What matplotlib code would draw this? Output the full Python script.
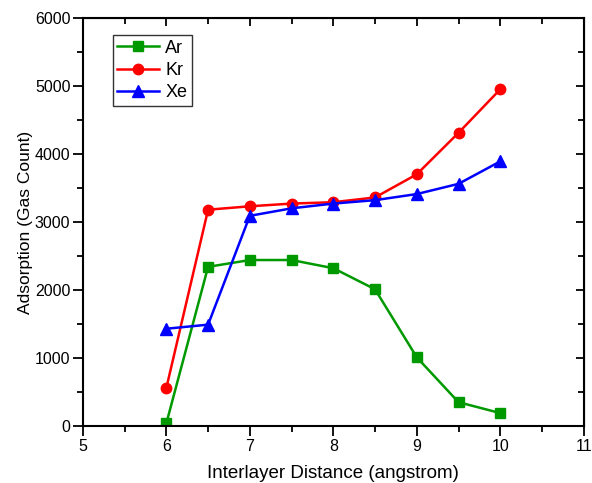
import numpy as np
import matplotlib.pyplot as plt
from matplotlib.ticker import MultipleLocator

plt.rcParams['font.family'] = ['Liberation Sans', 'DejaVu Sans']

distance = [6, 6.5, 7, 7.5, 8, 8.5, 9, 9.5, 10]
ar = [40, 2340, 2440, 2440, 2320, 2010, 1010, 350, 190]
kr = [560, 3180, 3230, 3270, 3290, 3360, 3700, 4310, 4950]
xe = [1430, 1490, 3090, 3200, 3270, 3320, 3410, 3560, 3890]

fig = plt.figure(figsize=(5.92, 4.83), dpi=100)
ax = fig.add_axes([0.140, 0.118, 0.846, 0.845])

ax.plot(distance, ar, color='#009900', marker='s', ms=7, lw=1.8, label='Ar')
ax.plot(distance, kr, color='#ff0000', marker='o', ms=7.5, lw=1.8, label='Kr')
ax.plot(distance, xe, color='#0000ff', marker='^', ms=8, lw=1.8, label='Xe')

ax.set_xlim(5, 11)
ax.set_ylim(0, 6000)
ax.xaxis.set_major_locator(MultipleLocator(1))
ax.xaxis.set_minor_locator(MultipleLocator(0.5))
ax.yaxis.set_major_locator(MultipleLocator(1000))
ax.yaxis.set_minor_locator(MultipleLocator(500))

for s in ax.spines.values():
    s.set_linewidth(1.5)
ax.tick_params(which='both', direction='out', width=1.3, labelsize=11.5, pad=2)
ax.tick_params(which='major', length=7)
ax.tick_params(which='minor', length=4)

# inward ticks on the top and right edges
top = ax.secondary_xaxis('top')
top.xaxis.set_major_locator(MultipleLocator(1))
top.xaxis.set_minor_locator(MultipleLocator(0.5))
top.tick_params(which='both', direction='in', width=1.3, labeltop=False)
top.tick_params(which='major', length=6)
top.tick_params(which='minor', length=4)
right = ax.secondary_yaxis('right')
right.yaxis.set_major_locator(MultipleLocator(1000))
right.yaxis.set_minor_locator(MultipleLocator(500))
right.tick_params(which='both', direction='in', width=1.3, labelright=False)
right.tick_params(which='major', length=6)
right.tick_params(which='minor', length=4)

ax.set_xlabel('Interlayer Distance (angstrom)', fontsize=13.5, labelpad=8)
ax.set_ylabel('Adsorption (Gas Count)', fontsize=12.5, labelpad=1)

leg = ax.legend(loc='upper left', bbox_to_anchor=(0.060, 0.958), fontsize=13,
                frameon=True, fancybox=False, edgecolor='black',
                handlelength=2.3, handletextpad=0.35, borderpad=0.25,
                borderaxespad=0, labelspacing=0.3)
leg.get_frame().set_linewidth(1.0)

fig.savefig('out.png', dpi=100)
